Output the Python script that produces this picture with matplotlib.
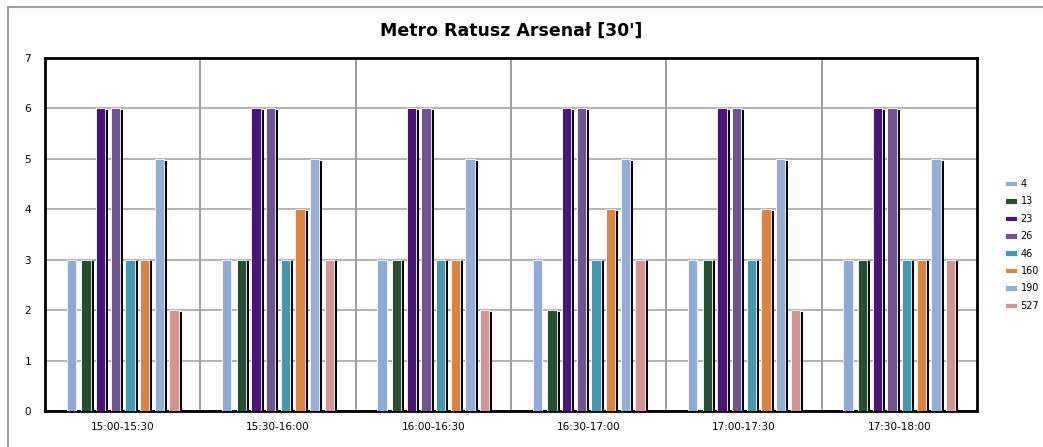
import numpy as np
import matplotlib
matplotlib.use("Agg")
import matplotlib.pyplot as plt
from matplotlib.lines import Line2D

periods = ['15:00-15:30', '15:30-16:00', '16:00-16:30', '16:30-17:00', '17:00-17:30', '17:30-18:00']
lines = ['4', '13', '23', '26', '46', '160', '190', '527']
values = {
    '4':   [3, 3, 3, 3, 3, 3],
    '13':  [3, 3, 3, 2, 3, 3],
    '23':  [6, 6, 6, 6, 6, 6],
    '26':  [6, 6, 6, 6, 6, 6],
    '46':  [3, 3, 3, 3, 3, 3],
    '160': [3, 4, 3, 4, 4, 3],
    '190': [5, 5, 5, 5, 5, 5],
    '527': [2, 3, 2, 3, 2, 3],
}
colors = ['#8eaadb', '#24502f', '#4a1478', '#6f5490', '#4299b0', '#dc843e', '#95aed6', '#d49494']

fig = plt.figure(figsize=(10.43, 4.47), dpi=100)
ax = fig.add_axes([0.0431, 0.0805, 0.8936, 0.7897])

# outer chart border (top and left only visible)
fig.add_artist(Line2D([0.0077, 0.0077], [0, 0.984], color='#a0a0a0', lw=1.5, transform=fig.transFigure))
fig.add_artist(Line2D([0.0077, 1.0], [0.984, 0.984], color='#a0a0a0', lw=1.5, transform=fig.transFigure))

x = np.arange(len(periods)) + 0.5
step = 0.0945
w = 0.06
for i, (name, c) in enumerate(zip(lines, colors)):
    pos = x + (i - 3.5) * step
    vals = np.array(values[name])
    if name != '4':
        ax.bar(pos + 0.02, vals - 0.035, width=w, color='black', zorder=2)
    ax.bar(pos, vals, width=w, color=c, edgecolor='white', linewidth=0.6, zorder=3, label=name)

ax.set_xlim(0, 6)
ax.set_ylim(0, 7)
ax.set_yticks(range(8))
ax.set_xticks(x)
ax.set_xticklabels(periods, fontsize=7.5)
ax.tick_params(axis='y', labelsize=7.5, length=0, pad=10)
ax.tick_params(axis='x', length=0, pad=8)
ax.grid(axis='y', color='#a6a6a6', lw=1.2, zorder=0)
for b in range(1, 6):
    ax.axvline(b, color='#8c8c8c', lw=1.2, zorder=0)
for s in ax.spines.values():
    s.set_linewidth(2)
    s.set_color('black')

ax.set_title("Metro Ratusz Arsenał [30']", fontsize=12.5, fontweight='bold', pad=16)

fig.legend(loc='center left', bbox_to_anchor=(0.9636, 0.452), fontsize=7, frameon=False,
           borderpad=0, borderaxespad=0, handlelength=1.2, handleheight=0.5,
           labelspacing=0.76, handletextpad=0.4)

fig.savefig('out.png', dpi=100)
